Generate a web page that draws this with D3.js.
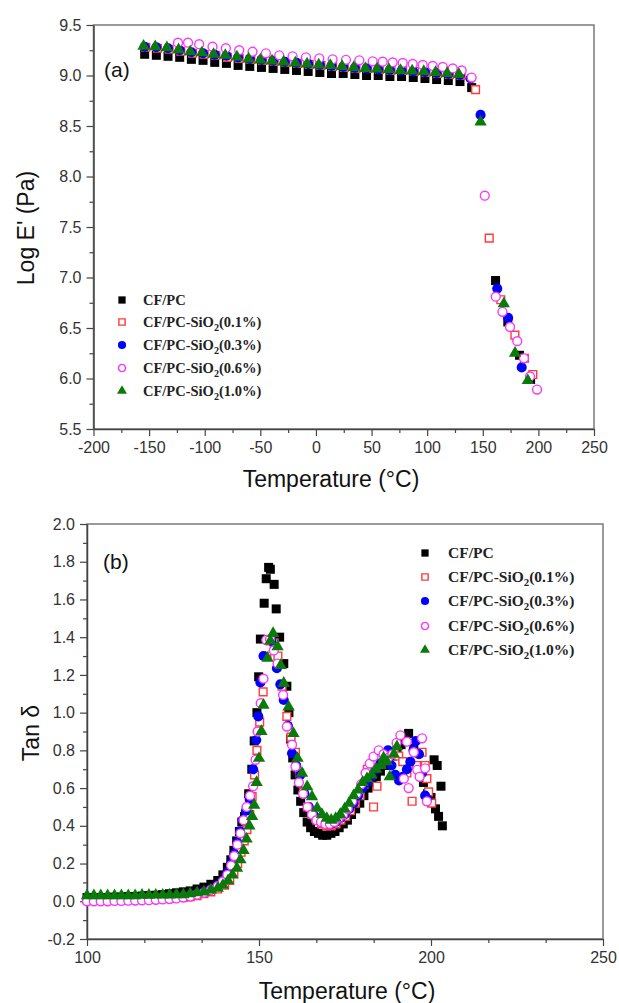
<!DOCTYPE html>
<html>
<head>
<meta charset="utf-8">
<script src="https://cdn.jsdelivr.net/npm/d3@7"></script>
<style>
  body { margin: 0; background: #fff; }
</style>
</head>
<body>
<div id="chart"></div>
<script>
// ---- data : panel (a) Log E' vs temperature  [T, value]
const eBlack = [[-154,9.21],[-143.5,9.20],[-133,9.19],[-122.5,9.18],[-112,9.16],[-101.5,9.15],[-91,9.13],[-80.5,9.12],[-70,9.10],[-59.5,9.09],[-49,9.08],[-38.5,9.07],[-28,9.06],[-17.5,9.05],[-7,9.04],[3.5,9.03],[14,9.02],[24.5,9.02],[35,9.01],[45.5,9.00],[56,9.00],[66.5,8.99],[77,8.99],[87.5,8.98],[98,8.97],[108.5,8.96],[119,8.95],[129.5,8.94],[140,8.88],[161.5,6.97],[172.5,6.56],[183,6.23],[193,5.99]];
const eSi01 = [[-153,9.28],[-142.5,9.27],[-132,9.26],[-121.5,9.24],[-111,9.22],[-100.5,9.21],[-90,9.20],[-79.5,9.18],[-69,9.17],[-58.5,9.16],[-48,9.15],[-37.5,9.14],[-27,9.13],[-16.5,9.12],[-6,9.11],[4.5,9.10],[15,9.09],[25.5,9.08],[36,9.07],[46.5,9.07],[57,9.06],[67.5,9.05],[78,9.05],[88.5,9.04],[99,9.03],[109.5,9.02],[120,9.01],[130.5,9.00],[143.5,8.86],[155.8,7.39],[166.2,6.78],[178.9,6.43],[187.5,6.20],[195,6.04]];
const eSi03 = [[-154,9.285],[-143.5,9.28],[-133,9.27],[-122.5,9.25],[-112,9.23],[-101.5,9.22],[-91,9.205],[-80.5,9.195],[-70,9.18],[-59.5,9.165],[-49,9.155],[-38.5,9.145],[-28,9.135],[-17.5,9.125],[-7,9.115],[3.5,9.105],[14,9.095],[24.5,9.085],[35,9.075],[45.5,9.07],[56,9.06],[66.5,9.055],[77,9.05],[87.5,9.04],[98,9.035],[108.5,9.025],[119,9.015],[129.5,9.005],[139,8.97],[148,8.61],[163,6.89],[172.8,6.60],[185,6.11]];
const eSi06 = [[-124,9.325],[-115,9.325],[-105,9.31],[-93,9.285],[-81,9.27],[-69,9.25],[-57,9.235],[-45,9.22],[-33,9.20],[-21,9.19],[-9,9.18],[3,9.17],[15,9.16],[27,9.155],[39,9.15],[51,9.14],[60,9.137],[69,9.13],[78,9.125],[87,9.115],[96,9.105],[105,9.095],[114,9.085],[123,9.07],[131,9.05],[140,8.98],[151.8,7.81],[161.7,6.81],[167.7,6.66],[174.5,6.51],[181,6.37],[187,6.20],[192.5,6.02],[198.8,5.89]];
const eSi10 = [[-155,9.29],[-144.5,9.285],[-134,9.275],[-123.5,9.255],[-113,9.235],[-102.5,9.225],[-92,9.21],[-81.5,9.20],[-71,9.185],[-60.5,9.165],[-50,9.155],[-39.5,9.145],[-29,9.135],[-18.5,9.125],[-8,9.115],[2.5,9.105],[13,9.10],[23.5,9.09],[34,9.08],[44.5,9.07],[55,9.065],[65.5,9.06],[76,9.05],[86.5,9.045],[97,9.04],[107.5,9.03],[118,9.02],[128.5,9.01],[148,8.54],[168.9,6.74],[179,6.25],[190.5,5.98]];

// ---- data : panel (b) tan delta vs temperature  [T, value]
const tBlack = [[100,0.02],[102,0.02],[104,0.02],[106,0.02],[108,0.022],[110,0.022],[112,0.025],[114,0.025],[116,0.028],[118,0.03],[120,0.032],[122,0.035],[124,0.04],[126,0.045],[128,0.05],[130,0.055],[132,0.065],[134,0.075],[136,0.09],[138,0.11],[139.5,0.14],[140.8,0.18],[141.8,0.22],[142.7,0.27],[143.5,0.32],[144.3,0.37],[145,0.42],[145.8,0.45],[146.5,0.48],[147,0.57],[147.9,0.70],[148.6,0.85],[149.4,1.00],[149.9,1.19],[150.4,1.39],[151.5,1.58],[152.1,1.71],[152.8,1.77],[153.3,1.76],[154.4,1.68],[155,1.55],[156,1.40],[157.2,1.26],[158.1,1.14],[158.7,1.00],[159.2,0.86],[159.8,0.76],[160.5,0.67],[161.3,0.59],[162.1,0.53],[163,0.47],[164,0.42],[165,0.39],[166.1,0.37],[167.3,0.36],[168.5,0.35],[169.7,0.35],[170.9,0.36],[172.1,0.37],[173.3,0.39],[174.5,0.41],[175.7,0.43],[176.9,0.46],[178.1,0.49],[179.3,0.52],[180.5,0.56],[181.7,0.60],[182.9,0.63],[184.1,0.66],[185.3,0.69],[186.5,0.72],[187.7,0.75],[188.9,0.77],[190.1,0.80],[191.3,0.83],[192.5,0.86],[193.5,0.89],[195,0.81],[196.5,0.72],[197.8,0.63],[199,0.57],[200,0.55],[200.9,0.75],[201.8,0.72],[202.9,0.61],[201.3,0.49],[202.2,0.45],[203.3,0.40]];
const tSi01 = [[100,0.008],[102,0.008],[104,0.008],[106,0.008],[108,0.008],[110,0.01],[112,0.01],[114,0.01],[116,0.012],[118,0.012],[120,0.014],[122,0.015],[124,0.017],[126,0.02],[128,0.02],[130,0.025],[132,0.03],[134,0.04],[136,0.05],[138,0.065],[140,0.085],[141.5,0.11],[142.7,0.15],[143.8,0.20],[144.8,0.26],[145.7,0.32],[146.5,0.38],[147.3,0.46],[148,0.555],[148.7,0.67],[149.4,0.80],[150.2,0.95],[151.2,1.11],[152.3,1.30],[153.3,1.38],[154.4,1.37],[155.5,1.30],[156.7,1.14],[158.1,0.98],[159.3,0.87],[160.6,0.79],[161.8,0.68],[163,0.58],[164.1,0.50],[165.4,0.46],[166.8,0.43],[168.2,0.41],[169.6,0.40],[171,0.40],[172.4,0.41],[173.8,0.43],[175.2,0.45],[176.6,0.48],[178,0.52],[179.4,0.56],[180.5,0.62],[181.5,0.70],[183.3,0.50],[184.3,0.61],[185.5,0.73],[186.7,0.76],[188,0.78],[189.3,0.79],[190.6,0.77],[191.8,0.74],[193,0.68],[194.5,0.53],[195.8,0.72],[197.4,0.79],[198.3,0.72],[198.8,0.65],[199.3,0.58],[200.2,0.52]];
const tSi03 = [[100,0.005],[102,0.005],[104,0.005],[106,0.005],[108,0.005],[110,0.006],[112,0.006],[114,0.007],[116,0.008],[118,0.009],[120,0.01],[122,0.012],[124,0.015],[126,0.02],[128,0.025],[130,0.03],[132,0.04],[134,0.05],[136,0.065],[138,0.085],[139.5,0.11],[140.8,0.15],[141.9,0.20],[142.8,0.25],[143.7,0.31],[144.5,0.37],[145.3,0.43],[146.2,0.48],[147.3,0.54],[148.3,0.70],[149.2,0.855],[149.8,0.98],[150.4,1.16],[151.3,1.30],[152.5,1.385],[153.6,1.38],[155.2,1.235],[156.2,1.15],[157.2,1.067],[158.4,0.93],[159.6,0.785],[160.8,0.72],[162,0.67],[163.2,0.57],[164.5,0.50],[165.8,0.46],[167.1,0.44],[168.4,0.42],[169.7,0.41],[171,0.41],[172.3,0.42],[173.6,0.44],[174.9,0.46],[176.2,0.49],[177.5,0.52],[178.8,0.56],[180.1,0.60],[181.4,0.63],[182.7,0.66],[184,0.70],[185.3,0.73],[186.6,0.77],[187.5,0.80],[188.5,0.72],[189.6,0.67],[190.7,0.64],[191.8,0.66],[193,0.70],[194,0.74],[194.9,0.80],[195.6,0.85],[196.5,0.78],[197.4,0.68],[198.3,0.56],[198.9,0.54]];
const tSi06 = [[100,0.0],[102,0.0],[104,0.0],[106,0.0],[108,0.002],[110,0.002],[112,0.003],[114,0.004],[116,0.005],[118,0.006],[120,0.008],[122,0.01],[124,0.012],[126,0.015],[128,0.02],[130,0.025],[132,0.035],[134,0.045],[136,0.06],[138,0.08],[139.5,0.105],[140.8,0.14],[141.9,0.19],[142.8,0.24],[143.7,0.30],[144.6,0.36],[145.5,0.43],[146.4,0.50],[147.4,0.56],[148.3,0.61],[149,0.75],[149.6,0.90],[150.5,1.05],[151.3,1.18],[152.1,1.385],[153.2,1.39],[154.3,1.33],[155.4,1.26],[157,1.094],[158.1,0.926],[159.6,0.83],[160.6,0.714],[161.6,0.63],[162.8,0.57],[164.1,0.50],[165.4,0.46],[166.7,0.43],[168,0.42],[169.3,0.41],[170.6,0.41],[171.9,0.42],[173.2,0.44],[174.5,0.46],[175.8,0.49],[177.1,0.53],[178.4,0.57],[179.7,0.62],[181,0.68],[182.2,0.73],[183.3,0.767],[184.8,0.80],[186.2,0.78],[187.5,0.76],[188.8,0.78],[190,0.84],[191.1,0.88],[192.1,0.65],[193,0.846],[193.5,0.60],[195,0.79],[196,0.697],[196.7,0.66],[197.4,0.864],[198.3,0.705],[198.8,0.53]];
const tSi10 = [[100,0.03],[102,0.03],[104,0.03],[106,0.03],[108,0.03],[110,0.03],[112,0.03],[114,0.03],[116,0.032],[118,0.032],[120,0.033],[122,0.033],[124,0.034],[126,0.035],[128,0.035],[130,0.04],[132,0.045],[134,0.05],[136,0.06],[138,0.07],[139.5,0.085],[141,0.11],[142.3,0.14],[143.6,0.175],[144.6,0.22],[145.5,0.27],[146.4,0.33],[147.2,0.40],[148,0.45],[148.6,0.51],[149.3,0.63],[150,0.758],[150.7,0.90],[151.3,1.04],[152.5,1.288],[153.3,1.38],[154.1,1.42],[155.4,1.35],[156.3,1.25],[157.2,1.156],[158.6,1.03],[160,0.89],[161.2,0.758],[162.5,0.679],[164,0.608],[165.4,0.555],[166.9,0.494],[168.3,0.46],[169.7,0.44],[171,0.43],[172.3,0.44],[173.6,0.46],[174.9,0.49],[176.2,0.52],[177.5,0.56],[178.8,0.59],[180.1,0.63],[181.4,0.65],[182.7,0.67],[184,0.70],[185.3,0.72],[186.2,0.76],[187.2,0.74],[188,0.66],[189.2,0.78],[190.1,0.82]];

// legend text: base, subscript, tail
const legendNames = [
  ["CF/PC", "", ""],
  ["CF/PC-SiO", "2", "(0.1%)"],
  ["CF/PC-SiO", "2", "(0.3%)"],
  ["CF/PC-SiO", "2", "(0.6%)"],
  ["CF/PC-SiO", "2", "(1.0%)"]
];

// ---- marker styles (same order as legend)
const styles = [
  { type: d3.symbolSquare,   size: 81, fill: "#000",    stroke: "none" },
  { type: d3.symbolSquare,   size: 60, fill: "#fff",    stroke: "#ff3a3a" },
  { type: d3.symbolCircle,   size: 80, fill: "#0000ff", stroke: "none" },
  { type: d3.symbolCircle,   size: 62, fill: "#fff",    stroke: "#ff33ff" },
  { type: d3.symbolTriangle, size: 66, fill: "#0a7a0a", stroke: "none" }
];

const svg = d3.select("#chart").append("svg")
  .attr("width", 619).attr("height", 1003)
  .style("font-family", "'Liberation Sans', Arial, sans-serif");

function panel(cfg) {
  const g = svg.append("g");
  const x = d3.scaleLinear().domain(cfg.xDomain).range([cfg.left, cfg.right]);
  const y = d3.scaleLinear().domain(cfg.yDomain).range([cfg.bottom, cfg.top]);

  // frame
  g.append("rect")
    .attr("x", cfg.left).attr("y", cfg.top)
    .attr("width", cfg.right - cfg.left).attr("height", cfg.bottom - cfg.top)
    .attr("fill", "none").attr("stroke", "#7a7a7a").attr("stroke-width", 1.5);

  // minor ticks
  g.append("g").attr("transform", "translate(0," + cfg.bottom + ")")
    .call(d3.axisBottom(x).tickValues(cfg.xMinor).tickSize(4).tickFormat(""))
    .call(a => a.select(".domain").remove());
  g.append("g").attr("transform", "translate(" + cfg.left + ",0)")
    .call(d3.axisLeft(y).tickValues(cfg.yMinor).tickSize(4).tickFormat(""))
    .call(a => a.select(".domain").remove());

  // major axes
  const ax = g.append("g").attr("transform", "translate(0," + cfg.bottom + ")")
    .call(d3.axisBottom(x).tickValues(cfg.xTicks).tickSize(7).tickSizeOuter(0)
      .tickPadding(6).tickFormat(d => String(d)));
  const ay = g.append("g").attr("transform", "translate(" + cfg.left + ",0)")
    .call(d3.axisLeft(y).tickValues(cfg.yTicks).tickSize(7).tickSizeOuter(0)
      .tickPadding(5).tickFormat(d => d.toFixed(1)));
  [ax, ay].forEach(a => {
    a.select(".domain").attr("stroke", "#444").attr("stroke-width", 1.5);
    a.selectAll("text").attr("fill", "#333").style("font-size", "16px")
      .style("font-family", "'Liberation Sans', Arial, sans-serif");
  });
  g.selectAll(".tick line").attr("stroke", "#444").attr("stroke-width", 1.2);

  // data
  cfg.data.forEach((ds, i) => {
    const st = styles[i];
    g.append("g").selectAll("path").data(ds).join("path")
      .attr("transform", d => "translate(" + x(d[0]) + "," + y(d[1]) + ")")
      .attr("d", d3.symbol().type(st.type).size(st.size))
      .attr("fill", st.fill)
      .attr("stroke", st.stroke)
      .attr("stroke-width", 1.4);
  });

  // panel label
  g.append("text").attr("x", cfg.labelX).attr("y", cfg.labelY)
    .attr("font-size", 21).attr("fill", "#111").text(cfg.label);

  // legend
  const lg = g.append("g");
  legendNames.forEach((nm, i) => {
    const st = styles[i];
    const yy = cfg.legendRows[i];
    lg.append("path")
      .attr("transform", "translate(" + cfg.legendX + "," + yy + ")")
      .attr("d", d3.symbol().type(st.type).size(st.size * 0.65))
      .attr("fill", st.fill).attr("stroke", st.stroke).attr("stroke-width", 1.4);
    const t = lg.append("text")
      .attr("x", cfg.legendX + cfg.legendGap).attr("y", yy + 5)
      .attr("fill", "#222")
      .style("font-family", "'Liberation Serif', 'Times New Roman', serif")
      .style("font-weight", "bold")
      .style("font-size", cfg.legendFont + "px");
    t.append("tspan").text(nm[0]);
    if (nm[1]) {
      t.append("tspan").attr("dy", 4).style("font-size", (cfg.legendFont * 0.7) + "px").text(nm[1]);
      t.append("tspan").attr("dy", -4).text(nm[2]);
    }
  });

  // axis titles
  g.append("text").attr("x", cfg.xTitleX).attr("y", cfg.xTitleY)
    .attr("text-anchor", "middle").attr("font-size", 23).attr("fill", "#111")
    .text("Temperature (°C)");
  g.append("text")
    .attr("transform", "translate(" + cfg.yTitleX + "," + cfg.yTitleY + ") rotate(-90)")
    .attr("text-anchor", "middle").attr("font-size", 23).attr("fill", "#111")
    .text(cfg.yTitle);
}

panel({
  xDomain: [-200, 250], yDomain: [5.5, 9.5],
  left: 93.5, right: 594, top: 25, bottom: 429,
  xTicks: d3.range(-200, 251, 50), xMinor: d3.range(-175, 250, 50),
  yTicks: d3.range(5.5, 9.51, 0.5), yMinor: d3.range(5.75, 9.5, 0.5),
  data: [eBlack, eSi01, eSi03, eSi06, eSi10],
  label: "(a)", labelX: 104, labelY: 77,
  legendX: 122, legendGap: 21, legendRows: [300, 322, 345, 368, 391], legendFont: 14.5,
  xTitleX: 331, xTitleY: 487,
  yTitle: "Log E' (Pa)", yTitleX: 34, yTitleY: 228
});

panel({
  xDomain: [100, 250], yDomain: [-0.2, 2.0],
  left: 87, right: 603, top: 524, bottom: 939,
  xTicks: [100, 150, 200, 250],
  xMinor: [100 + 50 / 3, 100 + 100 / 3, 150 + 50 / 3, 150 + 100 / 3, 200 + 50 / 3, 200 + 100 / 3],
  yTicks: d3.range(-0.2, 2.01, 0.2).map(v => Math.round(v * 10) / 10),
  yMinor: d3.range(-0.1, 2.0, 0.2),
  data: [tBlack, tSi01, tSi03, tSi06, tSi10],
  label: "(b)", labelX: 103, labelY: 569,
  legendX: 425, legendGap: 23, legendRows: [553, 577, 601, 626, 650], legendFont: 15.5,
  xTitleX: 347, xTitleY: 999,
  yTitle: "Tan δ", yTitleX: 39, yTitleY: 733
});
</script>
</body>
</html>
